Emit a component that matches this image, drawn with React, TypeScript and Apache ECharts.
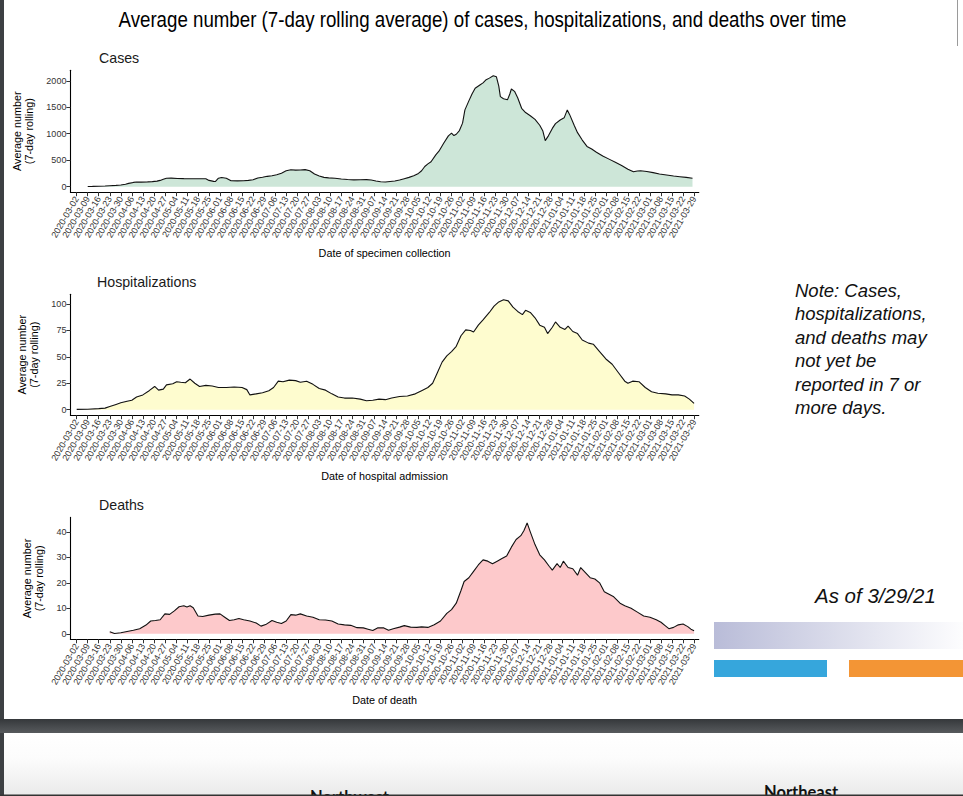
import React, { useEffect, useRef } from "react";
import * as echarts from "echarts";

// Weekly tick labels (Mondays)
const tickLabels = [
  "2020-03-02", "2020-03-09", "2020-03-16", "2020-03-23", "2020-03-30",
  "2020-04-06", "2020-04-13", "2020-04-20", "2020-04-27",
  "2020-05-04", "2020-05-11", "2020-05-18", "2020-05-25",
  "2020-06-01", "2020-06-08", "2020-06-15", "2020-06-22", "2020-06-29",
  "2020-07-06", "2020-07-13", "2020-07-20", "2020-07-27",
  "2020-08-03", "2020-08-10", "2020-08-17", "2020-08-24", "2020-08-31",
  "2020-09-07", "2020-09-14", "2020-09-21", "2020-09-28",
  "2020-10-05", "2020-10-12", "2020-10-19", "2020-10-26",
  "2020-11-02", "2020-11-09", "2020-11-16", "2020-11-23", "2020-11-30",
  "2020-12-07", "2020-12-14", "2020-12-21", "2020-12-28",
  "2021-01-04", "2021-01-11", "2021-01-18", "2021-01-25",
  "2021-02-01", "2021-02-08", "2021-02-15", "2021-02-22",
  "2021-03-01", "2021-03-08", "2021-03-15", "2021-03-22", "2021-03-29",
];

// [days since 2020-03-02, 7-day rolling average]
const casesAvg: [number, number][] = [
  [7, 3], [10, 5], [14, 9], [18, 13], [21, 18], [25, 24], [28, 30], [31, 45], [33, 62], [36, 80],
  [38, 88], [41, 86], [45, 90], [48, 95], [51, 105], [53, 118], [55, 140], [57, 160], [60, 162],
  [64, 155], [68, 152], [72, 150], [76, 150], [80, 150], [82, 148], [84, 118], [87, 100], [88, 96],
  [90, 160], [92, 172], [95, 160], [98, 112], [102, 110], [106, 112], [109, 118], [112, 130],
  [115, 165], [118, 178], [121, 195], [124, 205], [127, 225], [130, 255], [133, 300], [136, 318],
  [139, 312], [142, 316], [145, 322], [148, 300], [151, 240], [154, 200], [157, 175], [160, 165],
  [164, 160], [168, 145], [172, 135], [176, 128], [180, 130], [184, 132], [187, 125], [190, 108],
  [193, 92], [196, 88], [199, 98], [202, 108], [205, 125], [208, 150], [211, 175], [214, 205],
  [217, 250], [219, 300], [221, 380], [223, 430], [225, 470], [228, 600], [230, 670], [233, 820],
  [236, 960], [238, 1010], [239.5, 965], [241, 990], [243, 1060], [245, 1200], [246.5, 1450],
  [249, 1620], [251, 1750], [253, 1860], [256, 1920], [258, 1960], [260, 2020], [262, 2050],
  [264.5, 2095], [266.5, 2075], [268, 1900], [269, 1700], [271, 1660], [273.5, 1640], [275, 1750],
  [276, 1845], [278, 1800], [280, 1680], [282.5, 1480], [285, 1400], [288, 1340], [291, 1270],
  [294, 1160], [296, 1050], [297.5, 870], [299.5, 960], [302, 1100], [304, 1190], [307, 1260],
  [309.5, 1300], [311.5, 1450], [313, 1360], [316, 1150], [318, 1020], [321, 880], [324, 760],
  [327, 710], [330, 650], [334, 580], [338, 520], [342, 460], [346, 400], [350, 330], [353.5, 280],
  [356, 295], [358, 300], [362, 285], [366, 265], [370, 240], [374.5, 220], [379, 200], [383, 188],
  [387, 175], [391, 160],
];

const hospAvg: [number, number][] = [
  [0, 0.3], [7, 0.5], [14, 1], [18, 1.5], [21, 3], [25, 5], [28, 6.5], [32, 8], [35, 9], [38, 12],
  [42, 14], [46, 18], [49.5, 22], [52, 18.5], [55, 19.5], [57, 23.5], [61, 24.5], [63.5, 26.5],
  [66, 26], [69, 25.5], [72, 29], [75, 25], [78, 22], [82, 23], [86, 22.5], [90, 21], [95, 21],
  [100, 21.5], [105, 21], [108, 19], [110, 14], [114, 15], [118, 16], [122, 18], [125, 21],
  [128, 27], [131, 26.5], [135, 28], [139, 27.5], [142, 26], [146, 27], [150, 24], [154, 20],
  [158, 18.5], [162, 15], [166, 12], [170, 11], [175, 11], [180, 10], [184, 8.5], [188, 9],
  [192, 10], [196, 9.5], [200, 11], [205, 12.5], [210, 13], [215, 15], [219, 18], [223, 21],
  [226, 25], [229, 35], [232, 45], [235, 51], [238, 55], [241, 60], [244, 70], [247, 75.5],
  [250, 75], [252, 73.5], [255, 80], [258, 85], [262, 92], [265, 98], [268, 102], [271, 104],
  [274, 103], [277, 97], [280, 93], [283, 90], [285, 94], [288, 92], [291, 87], [294, 80],
  [297, 78], [299, 72], [302, 78], [304, 83], [307, 78], [310, 76], [312, 79], [315, 74],
  [318, 72], [321, 66], [325, 63], [328, 62], [332, 55], [336, 48], [340, 43], [344, 35],
  [348, 27], [350, 25], [353, 27], [357, 26.5], [361, 21], [365, 17], [369, 15.5], [374, 15],
  [378, 14], [382, 14], [386, 13], [389, 10], [392, 6],
];

const deathsAvg: [number, number][] = [
  [21, 0.8], [24, 0.1], [28, 0.4], [32, 0.9], [36, 1.4], [40, 2], [44, 3.4], [47, 5], [50, 5.2],
  [53, 5.5], [56, 7.8], [59, 7.6], [62, 9], [65, 10.6], [68, 11], [70, 10.5], [72, 11], [74, 10.2],
  [77, 7], [80, 6.8], [84, 7.3], [88, 7.7], [91, 7.8], [94, 6.5], [97, 5.2], [100, 5.5], [103, 6],
  [106, 5.5], [110, 5], [114, 4.2], [117, 3], [120, 3.6], [124, 5.2], [127, 4.5], [130, 4],
  [133, 5], [136, 7.5], [139, 7.3], [142, 7.8], [146, 7], [150, 6.5], [154, 5.5], [158, 5.4],
  [162, 5], [166, 3.8], [170, 3.5], [174, 3.3], [178, 2.4], [182, 2.3], [185, 1.8], [188, 1.3],
  [191, 2.3], [195, 2.3], [198, 1.4], [201, 2], [205, 2.6], [208, 3.2], [212, 2.6], [216, 2.5],
  [219, 2.7], [223, 2.5], [227, 3.5], [231, 5], [235, 8], [238, 9.5], [241, 12], [244, 17],
  [246, 20.5], [249, 22], [252, 24.5], [255, 27], [258, 29], [261, 28.5], [264, 27.5], [267, 28.5],
  [270, 29.5], [273, 30.5], [276, 34], [279, 37], [282, 38.5], [284, 40.5], [286, 43.5], [288, 40],
  [291, 35], [294, 31], [297, 29], [300, 26.5], [302, 25], [305, 27.5], [307, 26], [309, 28.5],
  [312, 26], [315, 25.5], [318, 23], [320, 26], [323, 24], [326, 22], [329, 21.5], [332, 20],
  [335, 16.5], [338, 15.5], [341, 14.5], [345, 12], [348, 11], [352, 10], [356, 8.5], [360, 7],
  [364, 6.5], [368, 5.5], [371, 4.5], [374, 3], [376, 2], [379, 2.5], [382, 3.5], [385, 3.8],
  [388, 2.8], [390, 1.8], [392, 1.2],
];

const panelTitles = ["Cases", "Hospitalizations", "Deaths"];
const xTitles = ["Date of specimen collection", "Date of hospital admission", "Date of death"];
const yTitle = "Average number\n(7-day rolling)";
const yTickValues = [
  [0, 500, 1000, 1500, 2000],
  [0, 25, 50, 75, 100],
  [0, 10, 20, 30, 40],
];
const mainTitle =
  "Average number (7-day rolling average) of cases, hospitalizations, and deaths over time";
const noteLines = [
  "Note: Cases,",
  "hospitalizations,",
  "and deaths may",
  "not yet be",
  "reported in 7 or",
  "more days.",
];
const asOfText = "As of 3/29/21";
const nextSlideTitles = ["Northwest", "Northeast"];

const START = Date.parse(tickLabels[0]);
const dayOf = (s: string) => Math.round((Date.parse(s) - START) / 86400000);

const FONT = '"Liberation Sans", Arial, sans-serif';

export default function App() {
  const ref = useRef<HTMLDivElement>(null);

  useEffect(() => {
    document.body.style.margin = "0";
    document.body.style.overflow = "hidden";
    const chart = echarts.init(ref.current!, undefined, { renderer: "svg" });

    const tickDays = tickLabels.map(dayOf);
    const labelByDay: Record<number, string> = {};
    tickLabels.forEach((l) => (labelByDay[dayOf(l)] = l));

    const series = [casesAvg, hospAvg, deathsAvg];
    const fills = ["#cde6d8", "#fefccf", "#fdc9cb"];
    const gridTops = [70.2, 294.3, 517.4];
    const gridHeights = [122, 120.9, 121.9];
    const gridLeft = 70.4;
    const gridWidth = 628.4;

    const grid = gridTops.map((t, i) => ({
      left: gridLeft,
      width: gridWidth,
      top: t,
      height: gridHeights[i],
      containLabel: false,
    }));

    const xAxis = series.map((_, i) => ({
      type: "value",
      gridIndex: i,
      min: -4,
      max: 395,
      splitLine: { show: false },
      axisLine: { show: true, onZero: false, lineStyle: { color: "#000", width: 1.1 } },
      axisTick: {
        show: true,
        customValues: tickDays,
        length: 4,
        lineStyle: { color: "#333", width: 1 },
      },
      axisLabel: {
        customValues: tickDays,
        rotate: 60,
        fontSize: 9,
        margin: 5,
        color: "#333",
        fontFamily: FONT,
        formatter: (v: number) => labelByDay[Math.round(v)] ?? "",
      },
      name: xTitles[i],
      nameLocation: "middle",
      nameGap: 55.4,
      nameTextStyle: { fontSize: 10.8, color: "#000", fontFamily: FONT },
    }));

    const yAxis = series.map((s, i) => {
      const mx = Math.max(...s.map((p) => p[1]));
      return {
        type: "value",
        gridIndex: i,
        min: -0.05 * mx,
        max: 1.05 * mx,
        splitLine: { show: false },
        axisLine: { show: true, onZero: false, lineStyle: { color: "#000", width: 1.1 } },
        axisTick: {
          show: true,
          customValues: yTickValues[i],
          length: 4,
          lineStyle: { color: "#333", width: 1 },
        },
        axisLabel: {
          customValues: yTickValues[i],
          fontSize: 9,
          margin: 4,
          color: "#333",
          fontFamily: FONT,
          formatter: (v: number) => String(v),
        },
        name: yTitle,
        nameLocation: "middle",
        nameRotate: 90,
        nameGap: 25,
        nameTextStyle: {
          fontSize: 10.8,
          lineHeight: 12.3,
          color: "#000",
          fontFamily: FONT,
          align: "center",
        },
      };
    });

    const seriesOpts = series.map((s, i) => ({
      type: "line",
      xAxisIndex: i,
      yAxisIndex: i,
      data: s,
      symbol: "none",
      smooth: false,
      lineStyle: { color: "#111", width: 1.1 },
      areaStyle: { color: fills[i], opacity: 1 },
      silent: true,
    }));

    const panelTitleY = [58, 282, 505];
    const panelTitleX = [99, 97, 99];

    const graphic: any[] = [
      { type: "rect", shape: { x: 0, y: 0, width: 4, height: 796 }, style: { fill: "#3d4043" }, silent: true },
      { type: "rect", shape: { x: 957, y: 0, width: 1, height: 46 }, style: { fill: "#9a9a9a" }, silent: true },
      {
        type: "rect",
        shape: { x: 0, y: 719, width: 963, height: 14 },
        style: {
          fill: new echarts.graphic.LinearGradient(0, 0, 0, 1, [
            { offset: 0, color: "#35383b" },
            { offset: 1, color: "#575a5d" },
          ]),
        },
        silent: true,
      },
      {
        type: "rect",
        shape: { x: 4, y: 733, width: 959, height: 63 },
        style: {
          fill: new echarts.graphic.LinearGradient(0, 0, 0, 1, [
            { offset: 0, color: "#ffffff" },
            { offset: 0.4, color: "#fcfcfc" },
            { offset: 1, color: "#eaeaea" },
          ]),
        },
        silent: true,
      },
      {
        type: "text",
        x: 482.5,
        y: 19,
        scaleX: 0.85,
        style: {
          text: mainTitle,
          fill: "#000",
          fontSize: 22,
          fontFamily: FONT,
          align: "center",
          verticalAlign: "middle",
        },
      },
      ...panelTitles.map((t, i) => ({
        type: "text",
        x: panelTitleX[i],
        y: panelTitleY[i],
        style: {
          text: t,
          fill: "#1a1a1a",
          fontSize: 14.2,
          fontFamily: FONT,
          align: "left",
          verticalAlign: "middle",
        },
      })),
      {
        type: "text",
        x: 795,
        y: 278.3,
        style: {
          text: noteLines.join("\n"),
          fill: "#111",
          fontSize: 18.5,
          lineHeight: 23.5,
          fontStyle: "italic",
          fontFamily: FONT,
          align: "left",
          verticalAlign: "top",
        },
      },
      {
        type: "text",
        x: 815,
        y: 595,
        style: {
          text: asOfText,
          fill: "#111",
          fontSize: 20.5,
          fontStyle: "italic",
          fontFamily: FONT,
          align: "left",
          verticalAlign: "middle",
        },
      },
      {
        type: "rect",
        shape: { x: 714, y: 622, width: 249, height: 27 },
        style: {
          fill: new echarts.graphic.LinearGradient(0, 0, 1, 0, [
            { offset: 0, color: "#b9bcd8" },
            { offset: 1, color: "#fdfdfe" },
          ]),
        },
        silent: true,
      },
      { type: "rect", shape: { x: 714, y: 660, width: 113, height: 17 }, style: { fill: "#36a6dc" }, silent: true },
      { type: "rect", shape: { x: 849, y: 660, width: 114, height: 17 }, style: { fill: "#f39535" }, silent: true },
      {
        type: "text",
        x: 310,
        y: 788,
        style: {
          text: nextSlideTitles[0],
          fill: "#111",
          fontSize: 16.5,
          fontWeight: "bold",
          fontFamily: "Lato, sans-serif",
          align: "left",
          verticalAlign: "top",
        },
      },
      {
        type: "text",
        x: 764,
        y: 783,
        style: {
          text: nextSlideTitles[1],
          fill: "#111",
          fontSize: 16.5,
          fontWeight: "bold",
          fontFamily: "Lato, sans-serif",
          align: "left",
          verticalAlign: "top",
        },
      },
      { type: "rect", shape: { x: 0, y: 794.5, width: 963, height: 1.5 }, style: { fill: "#333" }, silent: true },
    ];

    chart.setOption({
      animation: false,
      backgroundColor: "#ffffff",
      grid,
      xAxis,
      yAxis,
      series: seriesOpts,
      graphic,
    });

    return () => chart.dispose();
  }, []);

  return <div ref={ref} style={{ width: 963, height: 796 }} />;
}
